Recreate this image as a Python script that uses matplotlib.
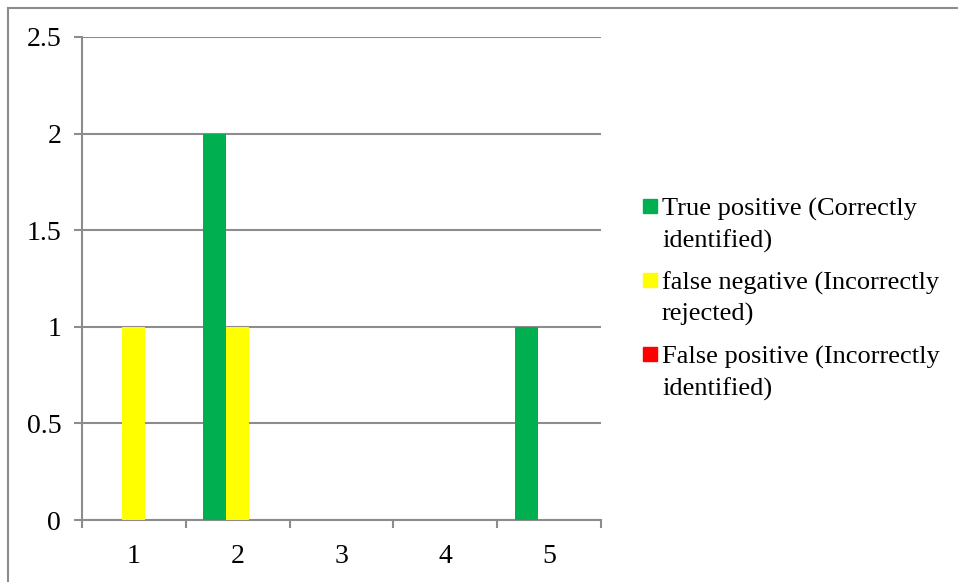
import matplotlib.pyplot as plt
import matplotlib.patches as patches
from matplotlib.lines import Line2D
import numpy as np

categories = [1, 2, 3, 4, 5]
true_positive = [0, 2, 0, 0, 1]
false_negative = [1, 1, 0, 0, 0]
false_positive = [0, 0, 0, 0, 0]

series_labels = ["True positive (Correctly\nidentified)",
                 "false negative (Incorrectly\nrejected)",
                 "False positive (Incorrectly\nidentified)"]
series_colors = ["#00B050", "#FFFF00", "#FF0000"]

plt.rcParams['font.family'] = ['Liberation Serif', 'DejaVu Serif']

W, H = 958, 582
fig = plt.figure(figsize=(W / 100, H / 100), dpi=100)
ax = fig.add_axes([82 / W, 1 - 520 / H, 519 / W, 483 / H])

grid_color = "#8c8c8c"
x = np.array(categories, dtype=float)
bar_w = 0.22
for i, (vals, col) in enumerate(zip([true_positive, false_negative, false_positive], series_colors)):
    ax.bar(x + (i - 1) * bar_w, vals, width=bar_w, color=col, zorder=3)

ax.set_xlim(0.5, 5.5)
ax.set_ylim(0, 2.5)
ax.set_yticks([0, 0.5, 1, 1.5, 2, 2.5])
ax.set_yticklabels(["0", "0.5", "1", "1.5", "2", "2.5"])
ax.set_xticks(categories)
ax.set_xticks(np.arange(0.5, 5.6, 1), minor=True)

ax.yaxis.grid(True, color=grid_color, linewidth=1.5, zorder=0)
ax.set_axisbelow(True)
for s in ["top", "right"]:
    ax.spines[s].set_visible(False)
for s in ["left", "bottom"]:
    ax.spines[s].set_color(grid_color)
    ax.spines[s].set_linewidth(1.5)

ax.tick_params(axis='y', direction='out', length=6, width=1.5, color=grid_color,
               labelsize=20, pad=9)
ax.tick_params(axis='x', which='major', length=0, labelsize=20, pad=17)
ax.tick_params(axis='x', which='minor', direction='out', length=6, width=1.5, color=grid_color)

# legend keys and text; rows given by first-line baseline in pixels
fs = 19
em = fs * 100 / 72
baselines = [215, 289, 363]
for lbl, col, bl in zip(series_labels, series_colors, baselines):
    fig.patches.append(patches.Rectangle((643 / W, 1 - (bl - 2) / H), 14 / W, 14 / H,
                                         transform=fig.transFigure, color=col))
    fig.text(662 / W, 1 - (bl + 6 - 0.891 * em) / H, lbl, fontsize=fs, va='top', ha='left',
             linespacing=1.48)

# outer frame (top and left edges)
fig.add_artist(Line2D([8 / W, 1], [1 - 8 / H, 1 - 8 / H], color=grid_color, linewidth=1.5))
fig.add_artist(Line2D([8 / W, 8 / W], [0, 1 - 8 / H], color=grid_color, linewidth=1.5))

fig.savefig("out.png", dpi=100)
